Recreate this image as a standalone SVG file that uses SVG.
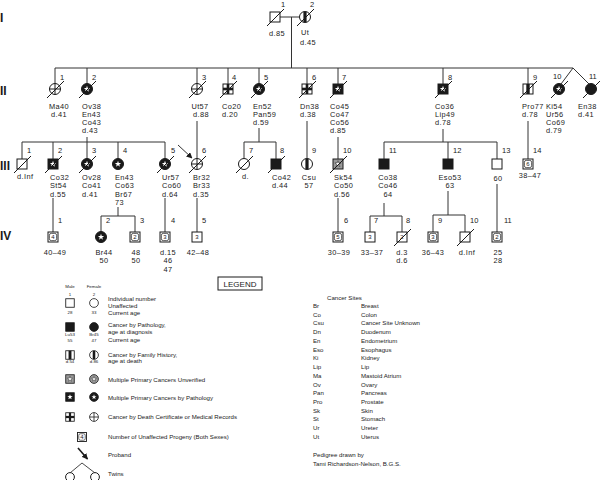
<svg xmlns="http://www.w3.org/2000/svg" width="600" height="480" viewBox="0 0 600 480">
<style>
text{font-family:"Liberation Sans",Arial,sans-serif;fill:#1a1a1a}
.t{font-size:7.4px;letter-spacing:0.4px}
.m{text-anchor:middle}
.n{font-size:7.5px}
.g{font-size:12px;font-weight:bold}
.pn{font-size:6px;text-anchor:middle}
.lg{font-size:6.1px}
.ls{font-size:4.4px;text-anchor:middle}
.s{fill:#fff;stroke:#1a1a1a;stroke-width:1}
.k{fill:#1a1a1a;stroke:#1a1a1a;stroke-width:1}
.c path{stroke:#333;stroke-width:1;fill:none}
</style>
<defs>
<path id="star" d="M0,-3.3 L0.78,-1.08 L3.14,-1.02 L1.27,0.41 L1.94,2.67 L0,1.34 L-1.94,2.67 L-1.27,0.41 L-3.14,-1.02 L-0.78,-1.08 Z"/>
<g id="sq"><rect x="-5" y="-5" width="10" height="10" class="s"/></g>
<g id="ci"><circle r="5.5" class="s"/></g>
<g id="sqB"><rect x="-5" y="-5" width="10" height="10" class="k"/></g>
<g id="ciB"><circle r="5.5" class="k"/></g>
<g id="sqS"><rect x="-5" y="-5" width="10" height="10" class="k"/><use href="#star" fill="#fff"/></g>
<g id="ciS"><circle r="5.5" class="k"/><use href="#star" fill="#fff"/></g>
<g id="sqX"><rect x="-5" y="-5" width="10" height="10" class="s"/><rect x="-1.3" y="-5" width="2.6" height="10" fill="#1a1a1a"/><rect x="-5" y="-1.3" width="10" height="2.6" fill="#1a1a1a"/></g>
<g id="ciX"><circle r="5.5" class="s"/><path d="M-5.5,0H5.5M0,-5.5V5.5" stroke="#1a1a1a" stroke-width="1"/></g>
<g id="sqV"><rect x="-5" y="-5" width="10" height="10" class="s"/><rect x="-1.7" y="-5" width="3.4" height="10" fill="#1a1a1a"/></g>
<g id="ciV"><circle r="5.5" class="s"/><path d="M-1.6,-5.2V5.2H1.6V-5.2Z" fill="#1a1a1a"/></g>
<g id="sqU"><rect x="-5" y="-5" width="10" height="10" fill="#9a9a9a" stroke="#1a1a1a"/><use href="#star" fill="#fff" stroke="#1a1a1a" stroke-width="0.5"/></g>
<g id="ciU"><circle r="5.5" fill="#9a9a9a" stroke="#1a1a1a"/><use href="#star" fill="#fff" stroke="#1a1a1a" stroke-width="0.5"/></g>
<g id="pb"><rect x="-5" y="-5" width="10" height="10" class="s" stroke-width="1.1"/><rect x="-3.6" y="-3.6" width="7.2" height="7.2" rx="1.8" fill="none" stroke="#1a1a1a" stroke-width="0.7"/></g>
<path id="dec" d="M-8,9L9,-8" stroke="#1a1a1a" stroke-width="1"/>
<marker id="arr" viewBox="0 0 10 10" refX="9" refY="5" markerWidth="6" markerHeight="6" markerUnits="userSpaceOnUse" orient="auto"><path d="M0,0L10,5L0,10Z" fill="#1a1a1a"/></marker>
</defs>
<rect width="600" height="480" fill="#fff"/>

<g id="generations">
<text class="g" x="0" y="22">I</text>
<text class="g" x="0" y="95">II</text>
<text class="g" x="0" y="170">III</text>
<text class="g" x="0" y="240">IV</text>
</g>

<g id="connectors" class="c">
<path d="M280,17H299.5M291.5,17V68"/>
<path d="M55,68H573M55,68V83.5M87,68V83.5M197,68V83.5M228,68V84M259,68V83.5M307,68V84M338,68V84M443,68V84M528,68V84M573,68L561,84M573,68L589,84"/>
<path d="M87,137V142M22,142H165M22,142V159M53,142V159M87,142V158.5M118,142V158.5M165,142V158.5"/>
<path d="M197,121V158.5"/>
<path d="M259,128V142M244,142H276M244,142V158.5M276,142V159"/>
<path d="M307,121V158.5"/>
<path d="M338,137V159"/>
<path d="M443,129V142M384,142H497M384,142V159M448,142V159M497,142V159"/>
<path d="M528,121V159"/>
<path d="M53,198V232"/>
<path d="M118,207V216M101,216H135M101,216V231.5M135,216V232"/>
<path d="M165,198V232"/>
<path d="M197,198V232"/>
<path d="M338,198V232"/>
<path d="M384,203V216M370,216H402M370,216V232M402,216V232"/>
<path d="M448,191V215M433,215H465M433,215V232M465,215V232"/>
<path d="M497,184V232"/>
<path d="M178,145L192,158" stroke-width="1.6" marker-end="url(#arr)"/>
</g>

<g id="I-1"><use href="#sq" x="275" y="17"/><use href="#dec" x="275" y="17"/><text class="n" x="281" y="7">1</text><text class="t m" x="277" y="36">d.85</text></g>
<g id="I-2"><use href="#ciV" x="305" y="17"/><use href="#dec" x="305" y="17"/><text class="n" x="310" y="7">2</text><text class="t" x="301" y="35">Ut</text><text class="t" x="300" y="45">d.45</text></g>

<g id="II-1"><use href="#ciX" x="55" y="89"/><use href="#dec" x="55" y="89"/><text class="n" x="60" y="80">1</text><text class="t m" y="108.5"><tspan x="59">Ma40</tspan><tspan x="59" dy="8.3">d.41</tspan></text></g>
<g id="II-2"><use href="#ciS" x="87" y="89"/><use href="#dec" x="87" y="89"/><text class="n" x="92" y="80">2</text><text class="t" y="108.5"><tspan x="82">Ov38</tspan><tspan x="82" dy="8.3">En43</tspan><tspan x="82" dy="8.3">Co43</tspan><tspan x="82" dy="8.3">d.43</tspan></text></g>
<g id="II-3"><use href="#ciX" x="197" y="89"/><use href="#dec" x="197" y="89"/><text class="n" x="202" y="80">3</text><text class="t m" y="108.5"><tspan x="200">Ut57</tspan><tspan x="201" dy="8.3">d.88</tspan></text></g>
<g id="II-4"><use href="#sqX" x="228" y="89"/><use href="#dec" x="228" y="89"/><text class="n" x="232" y="80">4</text><text class="t" y="108.5"><tspan x="222">Co20</tspan><tspan x="222" dy="8.3">d.20</tspan></text></g>
<g id="II-5"><use href="#ciS" x="259" y="89"/><use href="#dec" x="259" y="89"/><text class="n" x="264" y="80">5</text><text class="t" y="108.5"><tspan x="253">En52</tspan><tspan x="253" dy="8.3">Pan59</tspan><tspan x="253" dy="8.3">d.59</tspan></text></g>
<g id="II-6"><use href="#sqX" x="307" y="89"/><use href="#dec" x="307" y="89"/><text class="n" x="312" y="80">6</text><text class="t" y="108.5"><tspan x="300">Dn38</tspan><tspan x="300" dy="8.3">d.38</tspan></text></g>
<g id="II-7"><use href="#sqS" x="338" y="89"/><use href="#dec" x="338" y="89"/><text class="n" x="342" y="80">7</text><text class="t" y="108.5"><tspan x="330">Co45</tspan><tspan x="330" dy="8.3">Co47</tspan><tspan x="330" dy="8.3">Co56</tspan><tspan x="330" dy="8.3">d.85</tspan></text></g>
<g id="II-8"><use href="#sqS" x="443" y="89"/><use href="#dec" x="443" y="89"/><text class="n" x="448" y="80">8</text><text class="t" y="108.5"><tspan x="435">Co36</tspan><tspan x="435" dy="8.3">Lip49</tspan><tspan x="435" dy="8.3">d.78</tspan></text></g>
<g id="II-9"><use href="#sqV" x="528" y="89"/><use href="#dec" x="528" y="89"/><text class="n" x="533" y="80">9</text><text class="t" y="108.5"><tspan x="522">Pro77</tspan><tspan x="522" dy="8.3">d.78</tspan></text></g>
<g id="II-10"><use href="#ciS" x="559" y="89"/><use href="#dec" x="559" y="89"/><text class="n" x="553" y="79">10</text><text class="t" y="108.5"><tspan x="546">Ki54</tspan><tspan x="546" dy="8.3">Ur56</tspan><tspan x="546" dy="8.3">Co69</tspan><tspan x="546" dy="8.3">d.79</tspan></text></g>
<g id="II-11"><use href="#ciB" x="591" y="89"/><use href="#dec" x="591" y="89"/><text class="n" x="589" y="79">11</text><text class="t" y="108.5"><tspan x="578">En38</tspan><tspan x="578" dy="8.3">d.41</tspan></text></g>

<g id="III-1"><use href="#sq" x="22" y="164"/><use href="#dec" x="22" y="164"/><text class="n" x="27" y="152.5">1</text><text class="t" x="17" y="179">d.Inf</text></g>
<g id="III-2"><use href="#sqS" x="53" y="164"/><use href="#dec" x="53" y="164"/><text class="n" x="58" y="152.5">2</text><text class="t" y="180"><tspan x="50">Co32</tspan><tspan x="50" dy="8.3">St54</tspan><tspan x="50" dy="8.3">d.55</tspan></text></g>
<g id="III-3"><use href="#ciS" x="87" y="164"/><use href="#dec" x="87" y="164"/><text class="n" x="92" y="152.5">3</text><text class="t" y="180"><tspan x="82">Ov28</tspan><tspan x="82" dy="8.3">Co41</tspan><tspan x="82" dy="8.3">d.41</tspan></text></g>
<g id="III-4"><use href="#ciS" x="118" y="164"/><text class="n" x="123" y="152.5">4</text><text class="t" y="180"><tspan x="115">En43</tspan><tspan x="115" dy="8.3">Co63</tspan><tspan x="115" dy="8.3">Br67</tspan><tspan x="115" dy="8.3">73</tspan></text></g>
<g id="III-5"><use href="#ciS" x="165" y="164"/><use href="#dec" x="165" y="164"/><text class="n" x="171" y="152.5">5</text><text class="t" y="180"><tspan x="162">Ur57</tspan><tspan x="162" dy="8.3">Co60</tspan><tspan x="162" dy="8.3">d.64</tspan></text></g>
<g id="III-6"><use href="#ciX" x="197" y="164"/><use href="#dec" x="197" y="164"/><text class="n" x="202" y="152.5">6</text><text class="t" y="180"><tspan x="193">Br32</tspan><tspan x="193" dy="8.3">Br33</tspan><tspan x="193" dy="8.3">d.35</tspan></text></g>
<g id="III-7"><use href="#ci" x="244" y="164"/><use href="#dec" x="244" y="164"/><text class="n" x="249" y="152.5">7</text><text class="t" x="242" y="179">d.</text></g>
<g id="III-8"><use href="#sqB" x="276" y="164"/><use href="#dec" x="276" y="164"/><text class="n" x="280" y="152.5">8</text><text class="t" y="180"><tspan x="272">Co42</tspan><tspan x="272" dy="8.3">d.44</tspan></text></g>
<g id="III-9"><use href="#ciV" x="307" y="164"/><text class="n" x="312" y="152.5">9</text><text class="t m" y="180"><tspan x="309">Csu</tspan><tspan x="309" dy="8.3">57</tspan></text></g>
<g id="III-10"><use href="#sqU" x="338" y="164"/><use href="#dec" x="338" y="164"/><text class="n" x="343" y="152.5">10</text><text class="t" y="180"><tspan x="334">Sk54</tspan><tspan x="334" dy="8.3">Co50</tspan><tspan x="334" dy="8.3">d.56</tspan></text></g>
<g id="III-11"><use href="#sqB" x="384" y="164"/><text class="n" x="389" y="152.5">11</text><text class="t m" y="180"><tspan x="388">Co38</tspan><tspan x="388" dy="8.3">Co46</tspan><tspan x="388" dy="8.3">64</tspan></text></g>
<g id="III-12"><use href="#sqB" x="448" y="164"/><text class="n" x="453" y="152.5">12</text><text class="t m" y="180"><tspan x="450">Eso53</tspan><tspan x="450" dy="8.3">63</tspan></text></g>
<g id="III-13"><use href="#sq" x="497" y="164"/><text class="n" x="502" y="152.5">13</text><text class="t m" x="498" y="181">60</text></g>
<g id="III-14"><use href="#pb" x="528" y="164"/><text class="pn" x="528" y="166.2">6</text><text class="n" x="533" y="152.5">14</text><text class="t m" x="530" y="178">38–47</text></g>

<g id="IV-1"><use href="#pb" x="53" y="237"/><text class="pn" x="53" y="239.2">4</text><text class="n" x="58" y="223">1</text><text class="t m" x="55" y="255">40–49</text></g>
<g id="IV-2"><use href="#ciS" x="101" y="237"/><text class="n" x="106" y="223">2</text><text class="t m" y="255"><tspan x="104">Br44</tspan><tspan x="104" dy="8.3">50</tspan></text></g>
<g id="IV-3"><use href="#pb" x="135" y="237"/><text class="pn" x="135" y="239.2">2</text><text class="n" x="140" y="223">3</text><text class="t m" y="255"><tspan x="136">48</tspan><tspan x="136" dy="8.3">50</tspan></text></g>
<g id="IV-4"><use href="#pb" x="165" y="237"/><text class="pn" x="165" y="239.2">3</text><text class="n" x="171" y="223">4</text><text class="t m" y="255"><tspan x="168">d.15</tspan><tspan x="168" dy="8.3">46</tspan><tspan x="168" dy="8.3">47</tspan></text></g>
<g id="IV-5"><use href="#sq" x="197" y="237"/><text class="pn" x="197" y="239.2">3</text><text class="n" x="202" y="223">5</text><text class="t m" x="198" y="255">42–48</text></g>
<g id="IV-6"><use href="#pb" x="338" y="237"/><text class="pn" x="338" y="239.2">5</text><text class="n" x="344" y="223">6</text><text class="t m" x="339" y="255">30–39</text></g>
<g id="IV-7"><use href="#sq" x="370" y="237"/><text class="pn" x="370" y="239.2">3</text><text class="n" x="374" y="223">7</text><text class="t m" x="372" y="255">33–37</text></g>
<g id="IV-8"><use href="#sq" x="402" y="237"/><text class="pn" x="402" y="239.2">2</text><use href="#dec" x="402" y="237"/><text class="n" x="406" y="223">8</text><text class="t m" y="255"><tspan x="402">d.3</tspan><tspan x="402" dy="8.3">d.6</tspan></text></g>
<g id="IV-9"><use href="#pb" x="433" y="237"/><text class="pn" x="433" y="239.2">3</text><text class="n" x="438" y="223">9</text><text class="t m" x="433" y="255">36–43</text></g>
<g id="IV-10"><use href="#sq" x="465" y="237"/><use href="#dec" x="465" y="237"/><text class="n" x="470" y="223">10</text><text class="t m" x="467" y="255">d.Inf</text></g>
<g id="IV-11"><use href="#pb" x="497" y="237"/><text class="pn" x="497" y="239.2">2</text><text class="n" x="504" y="223">11</text><text class="t m" y="255"><tspan x="498">25</tspan><tspan x="498" dy="8.3">28</tspan></text></g>

<g id="legend">
<rect x="218" y="277" width="44" height="13" fill="none" stroke="#1a1a1a"/>
<text class="m" x="240" y="286.7" style="font-size:8px">LEGEND</text>
<text class="ls" x="70" y="288">Male</text>
<text class="ls" x="94" y="288">Female</text>
<text class="ls" x="70" y="296">1</text><text class="ls" x="94" y="296">2</text>
<use href="#sq" transform="translate(70,303) scale(0.85)"/>
<use href="#ci" transform="translate(94,303) scale(0.8)"/>
<text class="ls" x="70" y="314">28</text><text class="ls" x="94" y="314">33</text>
<use href="#sqB" transform="translate(70,327) scale(0.85)"/>
<use href="#ciB" transform="translate(94,327) scale(0.8)"/>
<text class="ls" x="70" y="336">Lu53</text><text class="ls" x="70" y="342">55</text>
<text class="ls" x="94" y="336">Br45</text><text class="ls" x="94" y="342">47</text>
<use href="#sqV" transform="translate(70,355) scale(0.85)"/>
<use href="#ciV" transform="translate(94,355) scale(0.8)"/>
<text class="ls" x="70" y="363">d.54</text><text class="ls" x="94" y="363">d.86</text>
<use href="#sqU" transform="translate(70,379) scale(0.85)"/>
<use href="#ciU" transform="translate(94,379) scale(0.8)"/>
<use href="#sqS" transform="translate(70,397) scale(0.85)"/>
<use href="#ciS" transform="translate(94,397) scale(0.8)"/>
<use href="#sqX" transform="translate(70,417) scale(0.85)"/>
<use href="#ciX" transform="translate(94,417) scale(0.8)"/>
<use href="#pb" transform="translate(82,437) scale(0.9)"/>
<text class="pn" x="82" y="439">4</text>
<path d="M78,448L87.5,459" stroke="#1a1a1a" stroke-width="1.6" marker-end="url(#arr)"/>
<path d="M70,473L82,463L95,473" fill="none" stroke="#1a1a1a" stroke-width="0.8"/>
<circle cx="70" cy="477" r="4.4" class="s" stroke-width="0.8"/>
<circle cx="95" cy="477" r="4.4" class="s" stroke-width="0.8"/>
<text class="lg" x="108" y="301">Individual number</text>
<text class="lg" x="108" y="308">Unaffected</text>
<text class="lg" x="108" y="315">Current age</text>
<text class="lg" x="108" y="327">Cancer by Pathology,</text>
<text class="lg" x="108" y="334">age at diagnosis</text>
<text class="lg" x="108" y="341.5">Current age</text>
<text class="lg" x="108" y="356.5">Cancer by Family History,</text>
<text class="lg" x="108" y="363">age at death</text>
<text class="lg" x="108" y="381.5">Multiple Primary Cancers Unverified</text>
<text class="lg" x="108" y="399.5">Multiple Primary Cancers by Pathology</text>
<text class="lg" x="108" y="419">Cancer by Death Certificate or Medical Records</text>
<text class="lg" x="108" y="439">Number of Unaffected Progeny (Both Sexes)</text>
<text class="lg" x="108" y="457">Proband</text>
<text class="lg" x="108" y="475.5">Twins</text>
</g>

<g id="cancer-sites">
<text class="lg" x="327" y="299.5">Cancer Sites</text>
<text class="lg" y="308"><tspan x="313">Br</tspan><tspan x="313" dy="8.73">Co</tspan><tspan x="313" dy="8.73">Csu</tspan><tspan x="313" dy="8.73">Dn</tspan><tspan x="313" dy="8.73">En</tspan><tspan x="313" dy="8.73">Eso</tspan><tspan x="313" dy="8.73">Ki</tspan><tspan x="313" dy="8.73">Lip</tspan><tspan x="313" dy="8.73">Ma</tspan><tspan x="313" dy="8.73">Ov</tspan><tspan x="313" dy="8.73">Pan</tspan><tspan x="313" dy="8.73">Pro</tspan><tspan x="313" dy="8.73">Sk</tspan><tspan x="313" dy="8.73">St</tspan><tspan x="313" dy="8.73">Ur</tspan><tspan x="313" dy="8.73">Ut</tspan></text>
<text class="lg" y="308"><tspan x="361">Breast</tspan><tspan x="361" dy="8.73">Colon</tspan><tspan x="361" dy="8.73">Cancer Site Unknown</tspan><tspan x="361" dy="8.73">Duodenum</tspan><tspan x="361" dy="8.73">Endometrium</tspan><tspan x="361" dy="8.73">Esophagus</tspan><tspan x="361" dy="8.73">Kidney</tspan><tspan x="361" dy="8.73">Lip</tspan><tspan x="361" dy="8.73">Mastoid Atrium</tspan><tspan x="361" dy="8.73">Ovary</tspan><tspan x="361" dy="8.73">Pancreas</tspan><tspan x="361" dy="8.73">Prostate</tspan><tspan x="361" dy="8.73">Skin</tspan><tspan x="361" dy="8.73">Stomach</tspan><tspan x="361" dy="8.73">Ureter</tspan><tspan x="361" dy="8.73">Uterus</tspan></text>
<text class="lg" x="313" y="457">Pedigree drawn by</text>
<text class="lg" x="313" y="466">Tami Richardson-Nelson, B.G.S.</text>
</g>
</svg>
